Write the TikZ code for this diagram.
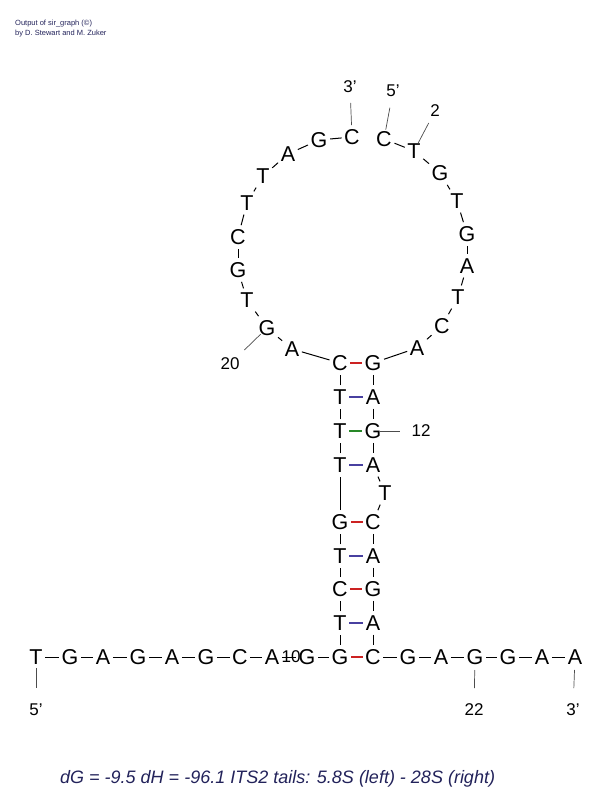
\documentclass[tikz,border=0pt]{standalone}
\usepackage{fontspec}
\setmainfont{Liberation Sans}
\usepackage{xcolor}
\usepackage{tikz}
\usetikzlibrary{positioning,calc}
\definecolor{gcpair}{RGB}{204,34,34}
\definecolor{atpair}{RGB}{72,64,160}
\definecolor{gtpair}{RGB}{40,136,40}
\definecolor{navytext}{RGB}{34,34,90}

\begin{document}
\begin{tikzpicture}[x=1pt,y=-1pt,
    nt/.style={inner xsep=2.5pt, inner ysep=4pt, font=\fontsize{21.5}{22}\selectfont},
    num/.style={inner sep=0pt, font=\fontsize{17}{17}\selectfont},
    bb/.style={line width=1pt},
    tick/.style={line width=0.7pt, black!70},
    pair/.style={line width=2.2pt}]
  \useasboundingbox (0,0) rectangle (612,792);
  \foreach \n/\x/\y/\b in {a1/384/139/C, a2/414/151/T, a3/440/173/G, a4/457/201/T, a5/467/234/G,
      a6/467/266/A, a7/458/297/T, a8/442/326/C, a9/417/348/A, a10/373/363/G, a11/373/397/A,
      a12/373/431/G, a13/373/465/A, a14/385/493/T, a15/373/522/C, a16/373/556/A, a17/373/589/G,
      a18/373/623/A, a19/373/657/C, a20/408/657/G, a21/441/657/A, a22/475/657/G, a23/508/657/G,
      a24/542/657/A, a25/575/657/A} {
    \node[nt] (\n) at (\x,\y) {\b};
  }
  \foreach \n/\x/\y/\b in {b1/36/657/T, b2/70/657/G, b3/103/657/A, b4/138/657/G, b5/172/657/A,
      b6/206/657/G, b7/240/657/C, b8/272/657/A, b9/307/657/G, b10/340/657/G, b11/340/623/T,
      b12/340/589/C, b13/340/556/T, b14/340/522/G, b15/340/465/T, b16/340/431/T, b17/340/397/T,
      b18/340/363/C, b19/292/349/A, b20/267/328/G, b21/247/300/T, b22/238/270/G, b23/238/237/C,
      b24/247/203/T, b25/263/176/T, b26/288/154/A, b27/319/140/G, b28/352/137/C} {
    \node[nt] (\n) at (\x,\y) {\b};
  }
  \foreach \i in {1,...,24} {
    \pgfmathtruncatemacro\j{\i+1}
    \draw[bb] (a\i) -- (a\j);
  }
  \foreach \i in {1,...,27} {
    \pgfmathtruncatemacro\j{\i+1}
    \draw[bb] (b\i) -- (b\j);
  }
  \foreach \l/\r/\c in {b10/a19/gcpair, b11/a18/atpair, b12/a17/gcpair, b13/a16/atpair,
      b14/a15/gcpair, b15/a13/atpair, b16/a12/gtpair, b17/a11/atpair, b18/a10/gcpair} {
    \draw[pair, \c] (\l) -- (\r);
  }
  \foreach \n/\x/\y/\t in {top3/350/87/3', top5/393/91/5', lab2/435/111/2, lab12/421/431/12,
      lab22/474/710/22, end3/573/710/3', end5/36/710/5', lab20/230/364/20, lab10/291/657/10} {
    \node[num] (\n) at (\x,\y) {\t};
  }
  \foreach \a/\b/\s/\e in {b28/top3/12/16, a1/top5/9.5/17, a2/lab2/8.5/13.5, b20/lab20/9/20,
      a12/lab12/7/21, a22/lab22/13/22, a25/end3/13/22, b1/end5/11/22} {
    \draw[tick, shorten <=\s pt, shorten >=\e pt] (\a.center) -- (\b.center);
  }
  \node[anchor=base west, inner sep=0pt, navytext, font=\fontsize{7.5}{8}\selectfont] (head1) at (15,26) {Output of sir\_graph (\textcopyright)};
  \node[anchor=base west, inner sep=0pt, navytext, font=\fontsize{7.5}{8}\selectfont] (head2) at (15,36) {by D. Stewart and M. Zuker};
  \node[anchor=base west, inner sep=0pt, navytext, font=\fontsize{18}{18}\selectfont\itshape] (energy) at (60,783) {dG = -9.5 dH = -96.1 ITS2 tails: 5.8S (left) - 28S (right)};
\end{tikzpicture}
\end{document}
